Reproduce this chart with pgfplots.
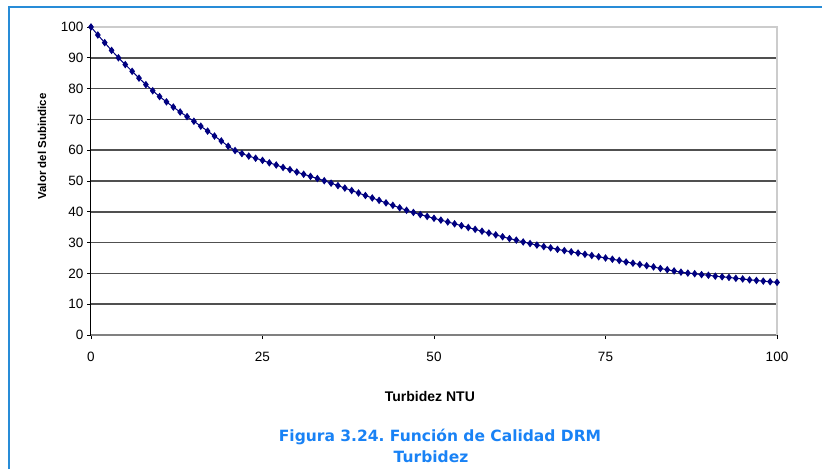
\documentclass[border=0pt]{standalone}
\usepackage{fontspec}
\setmainfont{Liberation Sans}
\newfontfamily\capfont{DejaVu Sans}
\usepackage{pgfplots}
\pgfplotsset{compat=1.18}
\definecolor{frameblue}{RGB}{40,140,215}
\definecolor{capblue}{RGB}{25,130,245}
\definecolor{serie}{RGB}{0,0,128}
\definecolor{gridgray}{RGB}{80,80,80}

\begin{document}
\frenchspacing
\begin{tikzpicture}[x=1pt,y=1pt]
\begin{axis}[
    at={(91pt,134pt)}, anchor=south west,
    scale only axis, width=686pt, height=308pt,
    xmin=0, xmax=100, ymin=0, ymax=100,
    axis lines=left, axis line style={-},
    x axis line style={draw=gray, line width=1.6pt},
    y axis line style={draw=black, line width=1pt},
    xtick={0,25,50,75,100}, ytick={0,10,...,100},
    tick align=outside, major tick length=4pt,
    tick style={black, line width=0.8pt},
    ymajorgrids, grid style={gridgray, line width=1.6pt},
    ticklabel style={font=\fontsize{13.5}{13.5}\selectfont},
    xticklabel style={yshift=-10pt},
    /pgf/number format/assume math mode=true,
    xlabel={Turbidez NTU}, ylabel={Valor del Subindice},
    xlabel style={font=\bfseries\fontsize{14}{14}\selectfont,
        at={(axis description cs:0.494,-0.201)}, anchor=center},
    ylabel style={font=\bfseries\fontsize{11.5}{11.5}\selectfont,
        at={(axis description cs:-0.0714,0.612)}, anchor=center},
    clip=false,
]
\draw[gray!40, line width=1.6pt] (axis cs:0,100) -- (axis cs:100,100) -- (axis cs:100,0);
\addplot[serie, line width=1pt, mark=diamond*, mark size=3pt] table [x=x, y=y] {
x y
0 100
1 97.4
2 94.9
3 92.4
4 90.0
5 87.8
6 85.6
7 83.4
8 81.3
9 79.3
10 77.4
11 75.7
12 74.0
13 72.4
14 70.9
15 69.4
16 67.8
17 66.2
18 64.6
19 63.0
20 61.3
21 59.9
22 58.9
23 58.1
24 57.4
25 56.7
26 55.9
27 55.2
28 54.4
29 53.7
30 52.9
31 52.2
32 51.5
33 50.8
34 50.1
35 49.3
36 48.5
37 47.7
38 46.9
39 46.1
40 45.3
41 44.5
42 43.7
43 42.9
44 42.1
45 41.3
46 40.5
47 39.8
48 39.1
49 38.5
50 37.9
51 37.3
52 36.7
53 36.1
54 35.5
55 34.9
56 34.3
57 33.7
58 33.1
59 32.5
60 31.9
61 31.3
62 30.8
63 30.2
64 29.7
65 29.2
66 28.7
67 28.3
68 27.8
69 27.4
70 27.0
71 26.6
72 26.2
73 25.8
74 25.4
75 25.0
76 24.6
77 24.2
78 23.7
79 23.3
80 22.9
81 22.5
82 22.1
83 21.6
84 21.2
85 20.8
86 20.4
87 20.1
88 19.9
89 19.6
90 19.4
91 19.1
92 18.9
93 18.7
94 18.4
95 18.2
96 17.9
97 17.7
98 17.5
99 17.3
100 17.1
};
\end{axis}
\draw[frameblue, line width=2pt] (9,0) -- (9,462) -- (822,462);
\node[anchor=base, text=capblue, font=\capfont\bfseries\fontsize{15.5}{15.5}\selectfont] at (440,28) {Figura 3.24. Función de Calidad DRM};
\node[anchor=base, text=capblue, font=\capfont\bfseries\fontsize{15.5}{15.5}\selectfont] at (431,7) {Turbidez};
\pgfresetboundingbox
\path (0,0) rectangle (822,469);
\end{tikzpicture}
\end{document}
